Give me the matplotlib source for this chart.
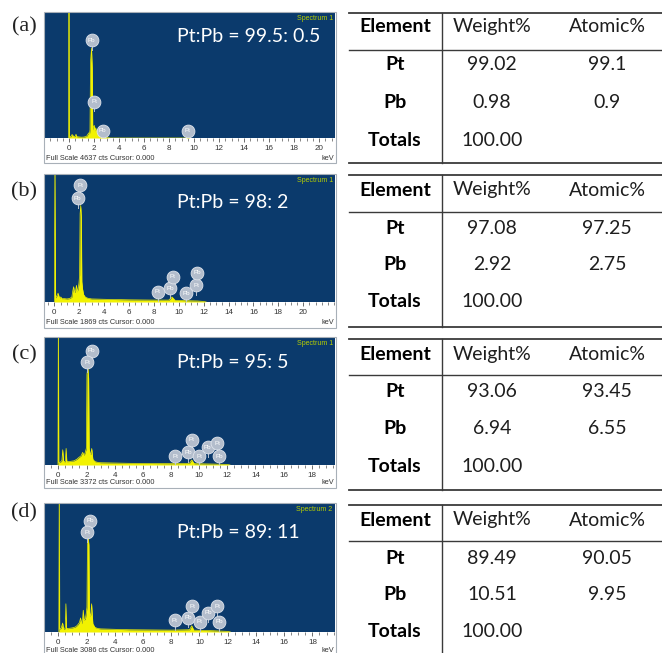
import matplotlib
matplotlib.use("Agg")
import matplotlib.pyplot as plt
from matplotlib.patches import Rectangle
from matplotlib.lines import Line2D
from matplotlib.ticker import MultipleLocator

# ---------------- data ----------------
panel_letters = ["(a)", "(b)", "(c)", "(d)"]
ratio_labels = ["Pt:Pb = 99.5: 0.5", "Pt:Pb = 98: 2", "Pt:Pb = 95: 5", "Pt:Pb = 89: 11"]
spectrum_names = ["Spectrum 1", "Spectrum 1", "Spectrum 1", "Spectrum 2"]
full_scale_cts = [4637, 1869, 3372, 3086]

# EDS spectra: energy (keV) and counts
energy_a = [-0.03, 0.0, 0.03, 0.12, 0.25, 0.32, 0.4, 0.5, 0.56, 0.62, 0.8, 1.0, 1.2, 1.4, 1.5,
            1.58, 1.64, 1.68, 1.72, 1.8, 1.86, 1.9, 1.96, 2.02, 2.08, 2.14, 2.2, 2.28, 2.36,
            2.5, 2.7, 3.0, 3.3, 9.35, 9.5, 9.65]
counts_a = [0, 5200, 60, 40, 130, 90, 50, 70, 140, 50, 40, 30, 35, 60, 130,
            190, 160, 300, 2800, 3340, 2600, 300, 420, 470, 260, 380, 200, 300, 120,
            70, 40, 20, 0, 0, 45, 0]

energy_b = [0.0, 0.05, 0.1, 0.2, 0.3, 0.38, 0.45, 0.52, 0.6, 0.8, 1.0, 1.2, 1.4, 1.5, 1.55,
            1.62, 1.7, 1.78, 1.84, 1.92, 1.98, 2.03, 2.07, 2.12, 2.17, 2.21, 2.27, 2.35, 2.5,
            2.7, 3.0, 4.0, 6.0, 8.0, 9.2, 9.45, 9.7, 10.5, 11.5, 12.0, 12.2]
counts_b = [0, 2200, 60, 90, 130, 80, 60, 75, 50, 50, 45, 50, 70, 180, 225,
            140, 160, 245, 150, 200, 280, 400, 1300, 1420, 1250, 300, 190, 110, 70,
            55, 45, 40, 32, 28, 28, 75, 25, 20, 15, 8, 0]

energy_c = [-0.03, 0.0, 0.03, 0.15, 0.25, 0.31, 0.37, 0.45, 0.5, 0.55, 0.6, 0.7, 0.9, 1.1,
            1.3, 1.45, 1.6, 1.73, 1.8, 1.88, 1.94, 1.99, 2.03, 2.09, 2.15, 2.19, 2.25, 2.3,
            2.37, 2.45, 2.6, 2.8, 3.0, 5.0, 8.0, 9.3, 9.47, 9.65, 11.0, 12.0, 12.2]
counts_c = [0, 4200, 60, 80, 120, 405, 100, 80, 120, 440, 90, 90, 100, 110,
            150, 200, 240, 337, 260, 300, 380, 450, 2400, 2600, 2300, 450, 300, 280,
            440, 150, 90, 70, 60, 45, 35, 40, 135, 35, 25, 15, 0]

energy_d = [0.04, 0.07, 0.1, 0.2, 0.31, 0.38, 0.45, 0.5, 0.54, 0.58, 0.65, 0.8, 1.0, 1.2,
            1.35, 1.5, 1.58, 1.65, 1.72, 1.77, 1.83, 1.92, 1.98, 2.03, 2.07, 2.12, 2.17,
            2.21, 2.26, 2.3, 2.36, 2.45, 2.6, 2.8, 3.0, 5.0, 8.0, 9.3, 9.45, 9.6, 11.0,
            12.0, 12.2]
counts_d = [0, 3900, 70, 90, 216, 60, 70, 120, 680, 100, 80, 90, 100, 120,
            160, 230, 340, 200, 300, 525, 280, 320, 450, 600, 2150, 2285, 2100,
            500, 370, 420, 680, 200, 110, 85, 75, 55, 45, 55, 150, 45, 30,
            15, 0]

# peak identification markers: element, energy (keV), counts
marks_a_el = ["Pb", "Pt", "Pb", "Pt"]
marks_a_kev = [1.82, 2.02, 2.7, 9.5]
marks_a_cts = [3617, 1345, 278, 278]

marks_b_el = ["Pt", "Pb", "Pt", "Pb", "Pt", "Pb", "Pt", "Pb"]
marks_b_kev = [2.07, 1.88, 8.3, 9.3, 9.5, 10.6, 11.4, 11.5]
marks_b_cts = [1720, 1530, 150, 205, 375, 130, 245, 430]

marks_c_el = ["Pb", "Pt", "Pt", "Pb", "Pt", "Pt", "Pb", "Pt", "Pb"]
marks_c_kev = [2.37, 2.06, 8.29, 9.23, 9.47, 10.0, 10.6, 11.3, 11.4]
marks_c_cts = [3035, 2730, 235, 337, 675, 235, 470, 575, 235]

marks_d_el = ["Pb", "Pt", "Pt", "Pb", "Pt", "Pt", "Pb", "Pt", "Pb"]
marks_d_kev = [2.24, 2.05, 8.26, 9.2, 9.48, 10.03, 10.6, 11.25, 11.4]
marks_d_cts = [2685, 2405, 280, 340, 615, 245, 465, 615, 245]

# composition tables
table_header = ["Element", "Weight%", "Atomic%"]
row_names = ["Pt", "Pb", "Totals"]
weight_pt = ["99.02", "97.08", "93.06", "89.49"]
atomic_pt = ["99.1", "97.25", "93.45", "90.05"]
weight_pb = ["0.98", "2.92", "6.94", "10.51"]
atomic_pb = ["0.9", "2.75", "6.55", "9.95"]
weight_total = ["100.00", "100.00", "100.00", "100.00"]

spectra = [(energy_a, counts_a), (energy_b, counts_b), (energy_c, counts_c), (energy_d, counts_d)]
marks = [(marks_a_el, marks_a_kev, marks_a_cts), (marks_b_el, marks_b_kev, marks_b_cts),
         (marks_c_el, marks_c_kev, marks_c_cts), (marks_d_el, marks_d_kev, marks_d_cts)]

# ---------------- layout (pixels) ----------------
W, H = 662, 653
fig = plt.figure(figsize=(W / 100, H / 100), dpi=100)
fig.patch.set_facecolor("white")


def fx(px):
    return px / W


def fy(py):
    return 1 - py / H


# spectrum boxes: top of plot, bottom of plot, bottom of frame, x-limits, last tick
spec_geom = [
    (13, 138, 163, (-1.92, 21.28), 20),
    (175, 302, 328, (-0.75, 22.55), 20),
    (338, 465, 488, (-0.95, 19.65), 18),
    (504, 632, 656, (-0.94, 19.60), 18),
]
# table rows: top rule, header, header rule, Pt, Pb, Totals, bottom rule
table_geom = [
    (12.7, 26.7, 50, 65, 102, 140, 163),
    (175, 190, 211.7, 228, 265, 301.7, 326.7),
    (339.3, 354, 375, 391.7, 428.3, 466.7, 490),
    (505, 520, 541, 558.3, 594, 631.7, None),
]
letter_y = [27, 192, 355, 513]
ratio_y = [37, 202, 363, 532]

BLUE = "#0b3a6c"
YELLOW = "#f2f200"
X0, X1 = 45, 335
CAL = ["Lato", "DejaVu Sans"]
ARIAL = ["Liberation Sans", "DejaVu Sans"]

for i in range(4):
    top, bot, fbot, xl, tmax = spec_geom[i]
    ax = fig.add_axes([fx(X0), fy(bot), (X1 - X0) / W, (bot - top) / H])
    ax.set_facecolor(BLUE)
    e, c = spectra[i]
    ax.fill_between(e, 0, c, color=YELLOW, lw=0, zorder=2)
    ax.plot(e, c, color=YELLOW, lw=0.5, zorder=2)
    ax.set_xlim(*xl)
    ax.set_ylim(0, full_scale_cts[i])
    ax.set_yticks([])
    ax.set_xticks(list(range(0, tmax + 1, 2)))
    ax.xaxis.set_minor_locator(MultipleLocator(0.5))
    ax.tick_params(axis="x", which="major", direction="out", length=3, width=0.6,
                   color="#555555", labelsize=5.8, labelcolor="#333333", pad=2)
    ax.tick_params(axis="x", which="minor", direction="out", length=2, width=0.5,
                   color="#555555")
    for lab in ax.get_xticklabels():
        lab.set_family(ARIAL)
    for s in ax.spines.values():
        s.set_visible(False)

    # peak identification badges
    els, kev, cts = marks[i]
    fs_cts = full_scale_cts[i]
    for el, k, n in zip(els, kev, cts):
        ax.plot([k, k], [n, n - 0.075 * fs_cts], color="#b9c3d2", lw=0.7, zorder=3)
        ax.scatter([k], [n], s=85, color="#b3bdcc", edgecolor="#dfe4ec", linewidth=0.6,
                   zorder=4)
        ax.text(k, n, el, ha="center", va="center", fontsize=4.5, color="white",
                family=ARIAL, zorder=5)

    ax.text(0.992, 0.985, spectrum_names[i], transform=ax.transAxes, ha="right", va="top",
            fontsize=5, color="#b8d000", family=ARIAL)

    # outer frame including the axis strip
    fig.add_artist(Rectangle((fx(X0 - 1), fy(fbot)), (X1 - X0 + 2) / W, (fbot - top + 1) / H,
                             transform=fig.transFigure, fill=False, edgecolor="#a8b0b8",
                             lw=0.8))
    fig.text(fx(X0 + 1), fy(fbot - 5), "Full Scale %d cts Cursor: 0.000" % full_scale_cts[i],
             ha="left", va="center", fontsize=5.3, color="#333333", family=ARIAL)
    fig.text(fx(X1 - 1), fy(fbot - 5), "keV", ha="right", va="center", fontsize=5.3,
             color="#333333", family=ARIAL)

    fig.text(fx(177), fy(ratio_y[i]), ratio_labels[i], ha="left", va="center",
             fontsize=14, color="white", family=CAL)
    fig.text(fx(24), fy(letter_y[i]), panel_letters[i], ha="center", va="center",
             fontsize=16, color="#222222", family=["Liberation Serif", "DejaVu Serif"])

    # composition table
    t_top, t_hdr, t_rule, y_pt, y_pb, y_tot, t_bot = table_geom[i]
    lx0, lx1 = 349, 662
    line_col = "#3a3a3a"
    fig.add_artist(Line2D([fx(lx0), fx(lx1)], [fy(t_top)] * 2, color=line_col, lw=1.3))
    fig.add_artist(Line2D([fx(lx0), fx(lx1)], [fy(t_rule)] * 2, color=line_col, lw=1.0))
    if t_bot is not None:
        fig.add_artist(Line2D([fx(lx0), fx(lx1)], [fy(t_bot)] * 2, color=line_col, lw=1.3))
        vb = t_bot
    else:
        vb = H + 2
    fig.add_artist(Line2D([fx(442)] * 2, [fy(t_top), fy(vb)], color=line_col, lw=1.0))

    col_x = [395, 492, 607]
    fs = 14
    txt = "#1e1e1e"
    fig.text(fx(col_x[0]), fy(t_hdr), table_header[0], ha="center", va="center",
             fontsize=fs, fontweight="bold", color="black", family=CAL)
    fig.text(fx(col_x[1]), fy(t_hdr), table_header[1], ha="center", va="center",
             fontsize=fs, color=txt, family=CAL)
    fig.text(fx(col_x[2]), fy(t_hdr), table_header[2], ha="center", va="center",
             fontsize=fs, color=txt, family=CAL)
    for yy, name in zip([y_pt, y_pb, y_tot], row_names):
        fig.text(fx(col_x[0]), fy(yy), name, ha="center", va="center", fontsize=fs,
                 fontweight="bold", color="black", family=CAL)
    fig.text(fx(col_x[1]), fy(y_pt), weight_pt[i], ha="center", va="center", fontsize=fs,
             color=txt, family=CAL)
    fig.text(fx(col_x[2]), fy(y_pt), atomic_pt[i], ha="center", va="center", fontsize=fs,
             color=txt, family=CAL)
    fig.text(fx(col_x[1]), fy(y_pb), weight_pb[i], ha="center", va="center", fontsize=fs,
             color=txt, family=CAL)
    fig.text(fx(col_x[2]), fy(y_pb), atomic_pb[i], ha="center", va="center", fontsize=fs,
             color=txt, family=CAL)
    fig.text(fx(col_x[1]), fy(y_tot), weight_total[i], ha="center", va="center", fontsize=fs,
             color=txt, family=CAL)

fig.savefig("out.png", dpi=100, facecolor="white")
